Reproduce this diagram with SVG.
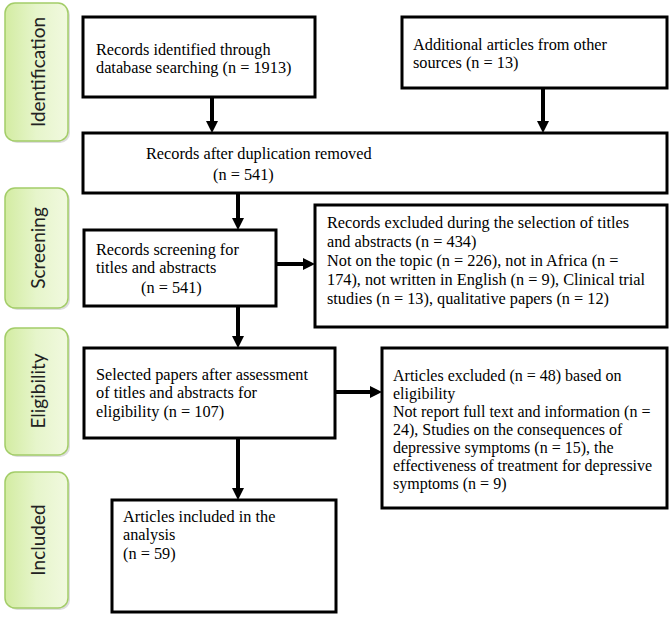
<svg xmlns="http://www.w3.org/2000/svg" width="669" height="619" viewBox="0 0 669 619">
  <defs>
    <linearGradient id="g" x1="0" y1="0" x2="1" y2="0">
      <stop offset="0" stop-color="#d3eca2"/>
      <stop offset="0.5" stop-color="#e6f5cb"/>
      <stop offset="1" stop-color="#f1f9df"/>
    </linearGradient>
    <marker id="ah" markerUnits="userSpaceOnUse" markerWidth="12" markerHeight="12" refX="0" refY="6" orient="auto">
      <path d="M0,0 L12,6 L0,12 z" fill="#000"/>
    </marker>
  </defs>
  <style>
    .stage rect.bg { fill: url(#g); stroke: #a3cd68; stroke-width: 1.5; }
    .stage rect.sh { fill: #bbbbbb; opacity: 0.5; }
    .stage text { font-family: "Lato", "Open Sans", sans-serif; font-size: 19px; fill: #222; text-anchor: middle; dominant-baseline: central; }
    .box rect { fill: #fff; stroke: #000; stroke-width: 3; }
    .box text { font-family: "Liberation Serif", "Times New Roman", serif; font-size: 16.3px; fill: #000; }
    #box-excluded2 text { font-size: 16px; }
    .conn line { stroke: #000; stroke-width: 4; marker-end: url(#ah); }
  </style>
  <rect width="669" height="619" fill="#fff"/>

  <g id="stage-identification" class="stage">
    <rect class="sh" x="7" y="5" width="63" height="138" rx="10"/>
    <rect class="bg" x="5" y="3" width="63" height="138" rx="10"/>
    <text transform="translate(37,72) rotate(-90)">Identification</text>
  </g>
  <g id="stage-screening" class="stage">
    <rect class="sh" x="7" y="190" width="63" height="120" rx="10"/>
    <rect class="bg" x="5" y="188" width="63" height="120" rx="10"/>
    <text transform="translate(37,248) rotate(-90)">Screening</text>
  </g>
  <g id="stage-eligibility" class="stage">
    <rect class="sh" x="7" y="330" width="63" height="127" rx="10"/>
    <rect class="bg" x="5" y="328" width="63" height="127" rx="10"/>
    <text transform="translate(37,391) rotate(-90)">Eligibility</text>
  </g>
  <g id="stage-included" class="stage">
    <rect class="sh" x="7" y="474" width="63" height="136" rx="10"/>
    <rect class="bg" x="5" y="472" width="63" height="136" rx="10"/>
    <text transform="translate(37,540) rotate(-90)">Included</text>
  </g>

  <g id="box-identified" class="box">
    <rect x="83" y="17" width="232" height="80"/>
    <text x="96" y="55">Records identified through</text>
    <text x="96" y="73">database searching (n = 1913)</text>
  </g>
  <g id="box-additional" class="box">
    <rect x="402" y="17" width="265" height="71"/>
    <text x="413" y="50">Additional articles from other</text>
    <text x="413" y="68">sources (n = 13)</text>
  </g>
  <g id="box-dedup" class="box">
    <rect x="83" y="133" width="584" height="60"/>
    <text x="146" y="159">Records after duplication removed</text>
    <text x="213" y="180">(n = 541)</text>
  </g>
  <g id="box-screening" class="box">
    <rect x="84" y="230" width="192" height="76"/>
    <text x="96" y="255">Records screening for</text>
    <text x="96" y="273">titles and abstracts</text>
    <text x="141" y="293">(n = 541)</text>
  </g>
  <g id="box-excluded1" class="box">
    <rect x="315" y="205" width="352" height="122"/>
    <text x="327" y="228">Records excluded during the selection of titles</text>
    <text x="327" y="247">and abstracts (n = 434)</text>
    <text x="327" y="266">Not on the topic (n = 226), not in Africa (n =</text>
    <text x="327" y="285">174), not written in English (n = 9), Clinical trial</text>
    <text x="327" y="304">studies (n = 13), qualitative papers (n = 12)</text>
  </g>
  <g id="box-eligibility" class="box">
    <rect x="84" y="348" width="251" height="90"/>
    <text x="96" y="380">Selected papers after assessment</text>
    <text x="96" y="398">of titles and abstracts for</text>
    <text x="96" y="417">eligibility (n = 107)</text>
  </g>
  <g id="box-excluded2" class="box">
    <rect x="382" y="348" width="285" height="160"/>
    <text x="393" y="381">Articles excluded (n = 48) based on</text>
    <text x="393" y="399">eligibility</text>
    <text x="393" y="417">Not report full text and information (n =</text>
    <text x="393" y="435">24), Studies on the consequences of</text>
    <text x="393" y="453">depressive symptoms (n = 15), the</text>
    <text x="393" y="471">effectiveness of treatment for depressive</text>
    <text x="393" y="489">symptoms (n = 9)</text>
  </g>
  <g id="box-included" class="box">
    <rect x="112" y="500" width="224" height="112"/>
    <text x="123" y="522">Articles included in the</text>
    <text x="123" y="540">analysis</text>
    <text x="123" y="559">(n = 59)</text>
  </g>

  <g id="connectors" class="conn">
    <line x1="212" y1="98" x2="212" y2="121"/>
    <line x1="543" y1="89" x2="543" y2="121"/>
    <line x1="238" y1="194" x2="238" y2="218"/>
    <line x1="277" y1="264" x2="303" y2="264"/>
    <line x1="238" y1="307" x2="238" y2="336"/>
    <line x1="336" y1="392" x2="370" y2="392"/>
    <line x1="238" y1="439" x2="238" y2="488"/>
  </g>
</svg>
